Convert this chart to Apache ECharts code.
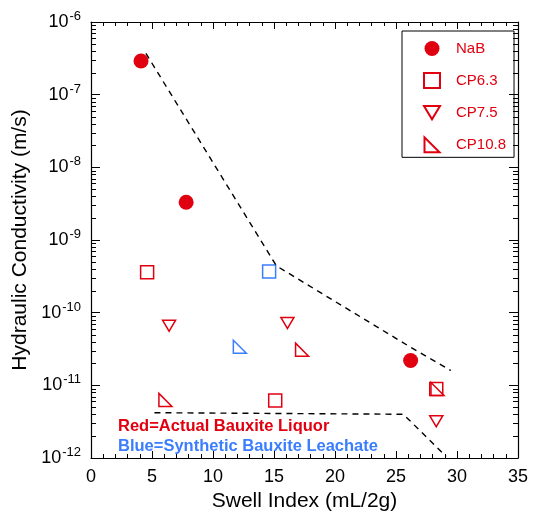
<!DOCTYPE html>
<html lang="en">
<head>
<meta charset="UTF-8">
<title>Hydraulic Conductivity vs Swell Index</title>
<script src="https://cdn.jsdelivr.net/npm/echarts@6/dist/echarts.min.js"></script>
<style>
  html, body { margin: 0; padding: 0; background: #fff; }
  #chart { width: 533px; height: 518px; }
</style>
</head>
<body>
<div id="chart"></div>
<script type="text/javascript">
  // data: [swell index, k (m/s)]
  var nabPts = [[4.1, 2.9e-7], [7.8, 3.3e-9], [26.2, 2.2e-11]];
  var cp63Pts = [[4.6, 3.6e-10], [14.6, 3.7e-10], [15.1, 6.2e-12], [28.3, 8.9e-12]];
  var cp75Pts = [[6.4, 6.6e-11], [16.1, 7.2e-11], [28.3, 3.2e-12]];
  var cp108Pts = [[6.1, 6.3e-12], [12.2, 3.4e-11], [17.3, 3.1e-11], [28.4, 8.9e-12]];
  // which points are synthetic leachate (blue)
  var cp63Blue = [false, true, false, false];
  var cp108Blue = [false, true, false, false];
  // dashed envelope lines
  var upperLine = [[4.5, 3.7e-7], [15.2, 4.4e-10], [26, 3.5e-11], [29.5, 1.6e-11]];
  var lowerLine = [[5.2, 4.2e-12], [25.6, 4.0e-12], [29.1, 1.05e-12]];
  var seriesNames = ['NaB', 'CP6.3', 'CP7.5', 'CP10.8'];
  var notes = ['Red=Actual Bauxite Liquor', 'Blue=Synthetic Bauxite Leachate'];

  var RED = '#e00010';
  var BLUE = '#3a7dff';
  var FONT = '"Liberation Sans", Arial, sans-serif';
  var X_MIN = 0, X_MAX = 35;

  // minor log ticks 2..9 x 10^n
  var minorY = [];
  for (var e = -12; e < -6; e++) {
    for (var k = 2; k <= 9; k++) minorY.push(k * Math.pow(10, e));
  }

  function colorize(pts, blue) {
    return pts.map(function (p, i) {
      var d = { value: p };
      if (blue[i]) d.itemStyle = { borderColor: BLUE };
      return d;
    });
  }

  // one short tick per item, pointing into the plot
  function minorTickSeries(xEdge, dir) {
    return {
      type: 'custom', silent: true, z: 10, clip: false,
      data: minorY.map(function (v) { return [xEdge, v]; }),
      renderItem: function (params, api) {
        var p = api.coord([api.value(0), api.value(1)]);
        var y = Math.round(p[1]) + 0.5;
        return {
          type: 'line',
          shape: { x1: p[0], y1: y, x2: p[0] + dir * 5, y2: y },
          style: { stroke: '#000', lineWidth: 1 }
        };
      }
    };
  }

  var chart = echarts.init(document.getElementById('chart'));

  var hollow = { color: 'rgba(0,0,0,0)', borderColor: RED, borderWidth: 1.5, opacity: 1 };
  var downTri = 'path://M0,0 L12,0 L6,10 Z';
  var rightTri = 'path://M0,0 L0,10 L10,10 Z';

  var option = {
    animation: false,
    textStyle: { fontFamily: FONT },
    grid: { left: 91, right: 15, top: 22, bottom: 60 },
    legend: {
      data: seriesNames,
      orient: 'vertical',
      left: 402, top: 31,
      padding: [10, 8, 4, 21],
      itemGap: 16,
      itemWidth: 16, itemHeight: 15,
      borderColor: '#000', borderWidth: 1,
      textStyle: { color: RED, fontSize: 15, fontFamily: FONT, padding: [0, 0, 0, 11] }
    },
    xAxis: [{
      type: 'value', min: X_MIN, max: X_MAX, interval: 5,
      name: 'Swell Index (mL/2g)', nameLocation: 'middle', nameGap: 33,
      nameTextStyle: { fontSize: 21, color: '#000' },
      axisLine: { lineStyle: { color: '#000', width: 1.2 } },
      axisTick: { inside: true, length: 7, lineStyle: { color: '#000' } },
      minorTick: { show: true, splitNumber: 5, length: 4, lineStyle: { color: '#000' } },
      axisLabel: { fontSize: 18, color: '#000', margin: 10 },
      splitLine: { show: false }
    }, {
      type: 'value', min: X_MIN, max: X_MAX, interval: 5, position: 'top',
      axisLine: { lineStyle: { color: '#000', width: 1.2 } },
      axisTick: { inside: true, length: 7, lineStyle: { color: '#000' } },
      minorTick: { show: true, splitNumber: 5, length: 4, lineStyle: { color: '#000' } },
      axisLabel: { show: false },
      splitLine: { show: false }
    }],
    yAxis: [{
      type: 'log', logBase: 10, min: 1e-12, max: 1e-6, interval: 1,
      name: 'Hydraulic Conductivity (m/s)', nameLocation: 'middle', nameGap: 47,
      nameTextStyle: { fontSize: 21, color: '#000' },
      axisLine: { show: true, onZero: false, lineStyle: { color: '#000', width: 1.2 } },
      axisTick: { show: true, inside: true, length: 9, lineStyle: { color: '#000' } },
      axisLabel: {
        margin: 10, color: '#000',
        formatter: function (v) {
          return '{b|10}{s|' + Math.round(Math.log10(v)) + '}';
        },
        rich: {
          b: { fontSize: 18, color: '#000', fontFamily: FONT },
          s: { fontSize: 13, color: '#000', fontFamily: FONT, verticalAlign: 'bottom', padding: [0, 0, 11, 1] }
        }
      },
      splitLine: { show: false }
    }, {
      type: 'log', logBase: 10, min: 1e-12, max: 1e-6, interval: 1, position: 'right',
      axisLine: { show: true, onZero: false, lineStyle: { color: '#000', width: 1.2 } },
      axisTick: { inside: true, length: 9, lineStyle: { color: '#000' } },
      axisLabel: { show: false },
      splitLine: { show: false }
    }],
    graphic: [
      { type: 'text', left: 118, top: 418, style: { text: notes[0], fill: RED, font: 'bold 16.5px ' + FONT } },
      { type: 'text', left: 118, top: 438, style: { text: notes[1], fill: BLUE, font: 'bold 16.5px ' + FONT } }
    ],
    series: [
      minorTickSeries(X_MIN, 1),
      minorTickSeries(X_MAX, -1),
      {
        type: 'line', data: upperLine, symbol: 'none', silent: true,
        lineStyle: { color: '#000', width: 1.4, type: [6, 5] }
      },
      {
        type: 'line', data: lowerLine, symbol: 'none', silent: true,
        lineStyle: { color: '#000', width: 1.4, type: [6, 5] }
      },
      {
        name: 'NaB', type: 'scatter', data: nabPts, symbol: 'circle', symbolSize: 15,
        itemStyle: { color: RED, opacity: 1 }
      },
      {
        name: 'CP6.3', type: 'scatter', data: colorize(cp63Pts, cp63Blue), symbol: 'rect', symbolSize: 13,
        itemStyle: hollow
      },
      {
        name: 'CP7.5', type: 'scatter', data: cp75Pts, symbol: downTri, symbolSize: [13, 11],
        itemStyle: hollow
      },
      {
        name: 'CP10.8', type: 'scatter', data: colorize(cp108Pts, cp108Blue), symbol: rightTri, symbolSize: 13,
        itemStyle: hollow
      }
    ]
  };
  chart.setOption(option);
</script>
</body>
</html>
